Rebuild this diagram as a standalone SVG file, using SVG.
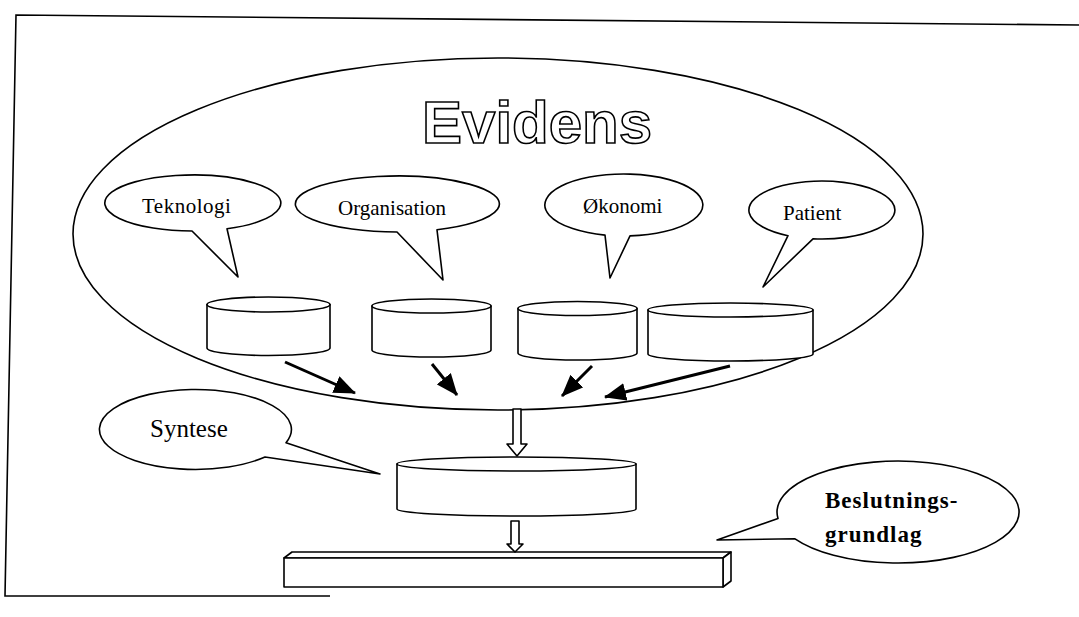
<svg xmlns="http://www.w3.org/2000/svg" width="1079" height="617" viewBox="0 0 1079 617">
<style>
.ln{fill:none;stroke:#000;stroke-width:1.6}
.sh{fill:#fff;stroke:#000;stroke-width:1.6;stroke-linejoin:round}
.lbl{font-family:"Liberation Serif","Times New Roman",serif;font-size:21px;fill:#000}
.big{font-family:"Liberation Serif","Times New Roman",serif;font-size:25px;fill:#000}
.dec{font-family:"Liberation Serif","Times New Roman",serif;font-size:23px;font-weight:bold;letter-spacing:1px;fill:#000}
.title{font-family:"Liberation Sans",Arial,sans-serif;font-size:60px;font-weight:bold;fill:#fff;stroke:#000;stroke-width:1.6}
.arr{fill:none;stroke:#000;stroke-width:3}
</style>
<defs>
<marker id="ah" markerUnits="userSpaceOnUse" markerWidth="22" markerHeight="18" refX="21" refY="9" orient="auto">
<path d="M0,0 L22,9 L0,18 Z" fill="#000"/>
</marker>
</defs>
<rect x="0" y="0" width="1079" height="617" fill="#fff"/>
<path id="frame" class="ln" d="M1079,25 L16,15 L5,596 L330,596" stroke-width="2"/>
<g id="evidens">
<ellipse class="ln" cx="498" cy="234" rx="425" ry="176"/>
<text class="title" x="422" y="143">Evidens</text>
</g>
<g id="teknologi">
<path class="sh" d="M192,231 A88,28 0 1 1 227,228.8 L238,277 Z"/>
<text class="lbl" x="142" y="213" letter-spacing="0.5">Teknologi</text>
</g>
<g id="organisation">
<path class="sh" d="M397,232 A102,28 0 1 1 437,229.8 L443,280 Z"/>
<text class="lbl" x="338" y="215">Organisation</text>
</g>
<g id="okonomi">
<path class="sh" d="M605,235.1 A79,31 0 1 1 630,235.9 L610,278 Z"/>
<text class="lbl" x="583" y="213">Økonomi</text>
</g>
<g id="patient">
<path class="sh" d="M788,235.7 A73,29 0 1 1 813,238.8 L763,287 Z"/>
<text class="lbl" x="783" y="220">Patient</text>
</g>
<g id="db1">
<path class="sh" d="M207,304.5 L207,348 A61.5,7.5 0 0 0 330,348 L330,304.5 Z"/>
<ellipse class="sh" cx="268.5" cy="304.5" rx="61.5" ry="7.5"/>
</g>
<g id="db2">
<path class="sh" d="M372,306 L372,350 A59.5,7 0 0 0 491,350 L491,306 Z"/>
<ellipse class="sh" cx="431.5" cy="306" rx="59.5" ry="7"/>
</g>
<g id="db3">
<path class="sh" d="M518,308.5 L518,353 A59.5,7 0 0 0 637,353 L637,308.5 Z"/>
<ellipse class="sh" cx="577.5" cy="308.5" rx="59.5" ry="7"/>
</g>
<g id="db4">
<path class="sh" d="M648,310 L648,354 A82.5,7 0 0 0 813,354 L813,310 Z"/>
<ellipse class="sh" cx="730.5" cy="310" rx="82.5" ry="7"/>
</g>
<g id="syntese">
<path class="sh" d="M286,442.7 A96,40 0 1 0 265,457 L380,474 Z"/>
<text class="big" x="150" y="437">Syntese</text>
</g>
<g id="synth-db">
<path class="sh" d="M397,464 L397,509 A119.5,7 0 0 0 636,509 L636,464 Z"/>
<ellipse class="sh" cx="516.5" cy="464" rx="119.5" ry="7"/>
</g>
<g id="grundlag-bar">
<path class="sh" d="M284,558 L292,552 L731,552 L723,558 Z"/>
<path class="sh" d="M723,558 L731,552 L731,581 L723,587 Z"/>
<rect class="sh" x="284" y="558" width="439" height="29"/>
</g>
<g id="beslutning">
<path class="sh" d="M778,518.5 A121,51 0 1 1 795,538.8 L717,540 Z"/>
<text class="dec" x="825" y="508">Beslutnings-</text>
<text class="dec" x="825" y="542">grundlag</text>
</g>
<g id="connectors">
<line class="arr" x1="285" y1="362" x2="355" y2="393" marker-end="url(#ah)"/>
<line class="arr" x1="432" y1="364" x2="457" y2="395" marker-end="url(#ah)"/>
<line class="arr" x1="592" y1="366" x2="562" y2="396" marker-end="url(#ah)"/>
<line class="arr" x1="730" y1="366" x2="605" y2="397" marker-end="url(#ah)"/>
<path class="sh" d="M513,409 L521,409 L521,444 L527,444 L517,456 L507,444 L513,444 Z"/>
<path class="sh" d="M511,521 L519,521 L519,544 L523,544 L515,552 L507,544 L511,544 Z"/>
</g>
</svg>
